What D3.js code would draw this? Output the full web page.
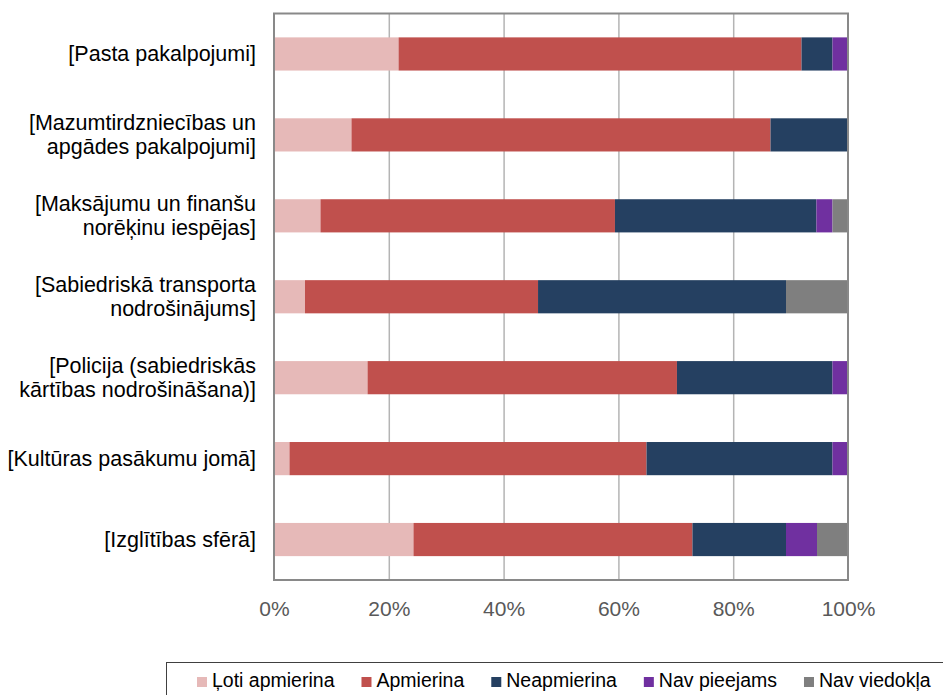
<!DOCTYPE html>
<html>
<head>
<meta charset="utf-8">
<script src="https://cdn.jsdelivr.net/npm/d3@7"></script>
<style>
  body { margin: 0; background: #fff; }
  svg { display: block; font-family: "Liberation Sans", Arial, sans-serif; }
  .axis text { fill: #595959; }
  .y-axis text { fill: #000; }
</style>
</head>
<body>
<svg id="chart"></svg>
<script>
// Categories (top to bottom), lines split with \n
const categories = [
  '[Pasta pakalpojumi]',
  '[Mazumtirdzniecības un\napgādes pakalpojumi]',
  '[Maksājumu un finanšu\nnorēķinu iespējas]',
  '[Sabiedriskā transporta\nnodrošinājums]',
  '[Policija (sabiedriskās\nkārtības nodrošināšana)]',
  '[Kultūras pasākumu jomā]',
  '[Izglītības sfērā]'
];

const seriesNames = ['Ļoti apmierina', 'Apmierina', 'Neapmierina', 'Nav pieejams', 'Nav viedokļa'];
const seriesColors = ['#e6b9b8', '#c0504d', '#254061', '#7030a0', '#7f7f7f'];

// percentage shares, one value per category
const lotiApmierina = [21.7, 13.5, 8.1, 5.4, 16.3, 2.7, 24.3];
const apmierina     = [70.2, 73.0, 51.3, 40.6, 53.9, 62.2, 48.6];
const neapmierina   = [5.4, 13.5, 35.1, 43.2, 27.1, 32.4, 16.3];
const navPieejams   = [2.7, 0, 2.8, 0, 2.7, 2.7, 5.4];
const navViedokla   = [0, 0, 2.7, 10.8, 0, 0, 5.4];

const xTicks = [0, 20, 40, 60, 80, 100];

class StackedBar {

  constructor(_config, _data) {
    this.config = {
      parentElement: _config.parentElement,
      containerWidth: _config.containerWidth || 943,
      containerHeight: _config.containerHeight || 695,
      margin: _config.margin || { top: 13.5, right: 95, bottom: 115, left: 274 }
    }
    this.data = _data;
    this.initVis();
  }

  initVis() {
    let vis = this;

    vis.width = vis.config.containerWidth - vis.config.margin.left - vis.config.margin.right;
    vis.height = vis.config.containerHeight - vis.config.margin.top - vis.config.margin.bottom;

    vis.xScale = d3.scaleLinear()
      .domain([0, 100])
      .range([0, vis.width]);

    vis.yScale = d3.scaleBand()
      .domain(categories)
      .range([0, vis.height])
      .paddingInner(0.59)
      .paddingOuter(0.295);

    vis.colorScale = d3.scaleOrdinal()
      .domain(seriesNames)
      .range(seriesColors);

    vis.xAxis = d3.axisBottom(vis.xScale)
      .tickValues(xTicks)
      .tickSize(0)
      .tickPadding(21)
      .tickFormat(d => d + '%');

    vis.gridAxis = d3.axisBottom(vis.xScale)
      .tickValues(xTicks.slice(1, -1))
      .tickSize(-vis.height)
      .tickFormat('');

    vis.yAxis = d3.axisLeft(vis.yScale)
      .tickSize(0)
      .tickPadding(18);

    vis.svg = d3.select(vis.config.parentElement)
      .attr('width', vis.config.containerWidth)
      .attr('height', vis.config.containerHeight);

    vis.chart = vis.svg.append('g')
      .attr('transform', `translate(${vis.config.margin.left},${vis.config.margin.top})`);

    vis.gridG = vis.chart.append('g')
      .attr('class', 'grid')
      .attr('transform', `translate(0,${vis.height})`);

    vis.barsG = vis.chart.append('g');

    // plot frame
    vis.chart.append('rect')
      .attr('width', vis.width)
      .attr('height', vis.height)
      .attr('fill', 'none')
      .attr('stroke', '#898989')
      .attr('stroke-width', 2);

    vis.xAxisG = vis.chart.append('g')
      .attr('class', 'axis x-axis')
      .attr('transform', `translate(0,${vis.height})`);

    vis.yAxisG = vis.chart.append('g')
      .attr('class', 'axis y-axis');

    vis.legendG = vis.svg.append('g')
      .attr('class', 'legend');
  }

  updateVis() {
    let vis = this;

    vis.stack = d3.stack().keys(seriesNames);
    vis.series = vis.stack(vis.data);

    vis.renderVis();
  }

  renderVis() {
    let vis = this;
    const font = '"Liberation Sans", Arial, sans-serif';

    vis.gridG.call(vis.gridAxis)
      .call(g => g.select('.domain').remove())
      .call(g => g.selectAll('.tick line')
        .attr('stroke', '#b4b4b4')
        .attr('stroke-width', 1.5));

    vis.barsG.selectAll('.series')
      .data(vis.series)
      .join('g')
      .attr('class', 'series')
      .attr('fill', d => vis.colorScale(d.key))
      .selectAll('rect')
      .data(d => d)
      .join('rect')
      .attr('x', d => vis.xScale(d[0]))
      .attr('y', d => vis.yScale(d.data.category))
      .attr('width', d => vis.xScale(d[1]) - vis.xScale(d[0]))
      .attr('height', vis.yScale.bandwidth());

    vis.xAxisG.call(vis.xAxis)
      .attr('font-family', font)
      .attr('font-size', 21)
      .call(g => g.select('.domain').remove());

    vis.yAxisG.call(vis.yAxis)
      .attr('font-family', font)
      .attr('font-size', 21.5)
      .call(g => g.select('.domain').remove())
      .call(g => g.selectAll('text')
        .each(function(d) {
          const lines = d.split('\n');
          const t = d3.select(this).text(null).attr('dy', null);
          const lh = 24;
          lines.forEach((line, i) => {
            t.append('tspan')
              .attr('x', -18)
              .attr('y', (i - (lines.length - 1) / 2) * lh)
              .attr('dy', '0.35em')
              .text(line);
          });
        }));

    // Legend
    const lx = 166, ly = 662;
    vis.legendG.append('rect')
      .attr('x', lx + 0.5)
      .attr('y', ly + 0.5)
      .attr('width', 800)
      .attr('height', 60)
      .attr('fill', '#fff')
      .attr('stroke', '#404040')
      .attr('stroke-width', 1);

    let cx = 197;
    seriesNames.forEach(name => {
      vis.legendG.append('rect')
        .attr('x', cx)
        .attr('y', 677)
        .attr('width', 10)
        .attr('height', 10)
        .attr('fill', vis.colorScale(name));
      const txt = vis.legendG.append('text')
        .attr('x', cx + 15)
        .attr('y', 687)
        .attr('font-size', 19.5)
        .attr('fill', '#000')
        .text(name);
      cx += 15 + txt.node().getComputedTextLength() + 27;
    });
  }
}

const data = categories.map((c, i) => ({
  category: c,
  [seriesNames[0]]: lotiApmierina[i],
  [seriesNames[1]]: apmierina[i],
  [seriesNames[2]]: neapmierina[i],
  [seriesNames[3]]: navPieejams[i],
  [seriesNames[4]]: navViedokla[i]
}));

const chart = new StackedBar({ parentElement: '#chart' }, data);
chart.updateVis();
</script>
</body>
</html>
